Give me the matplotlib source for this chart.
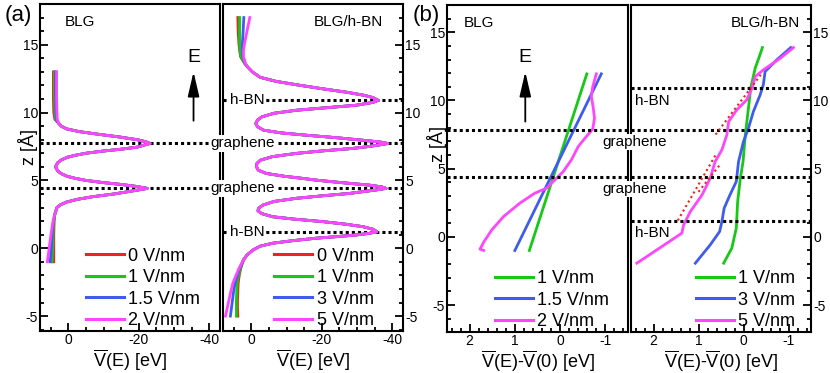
import matplotlib
matplotlib.use('Agg')
import matplotlib.pyplot as plt
from matplotlib.ticker import MultipleLocator
from matplotlib.transforms import blended_transform_factory
from matplotlib.lines import Line2D

plt.rcParams['font.family'] = ['Liberation Sans', 'DejaVu Sans']
plt.rcParams['axes.unicode_minus'] = False
plt.rcParams['mathtext.fontset'] = 'custom'
plt.rcParams['mathtext.rm'] = 'Liberation Sans'
plt.rcParams['mathtext.it'] = 'Liberation Sans:italic'

# 颜色：0, 1, 1.5/3, 2/5 V/nm
colors = ['#e8261a', '#17c817', '#3f5cf0', '#ff46ff']
labels_blg = ['0 V/nm', '1 V/nm', '1.5 V/nm', '2 V/nm']
labels_hbn = ['0 V/nm', '1 V/nm', '3 V/nm', '5 V/nm']

# ---- (a) BLG: V(E) 随 z 变化 ----
blg_z_top = [13.0, 12.0, 11.0, 10.0, 9.5]
blg_v_top_0 = [4.2, 4.2, 4.2, 4.1, 3.8]
blg_v_top_1 = [3.9, 3.9, 3.9, 3.8, 3.6]
blg_v_top_15 = [3.6, 3.6, 3.6, 3.5, 3.4]
blg_v_top_2 = [3.3, 3.3, 3.3, 3.2, 3.1]

blg_z_mid = [9.2, 9.0, 8.8, 8.6, 8.4, 8.2, 8.0, 7.85, 7.72, 7.6, 7.45, 7.3, 7.15, 7.0, 6.85,
             6.7, 6.5, 6.3, 6.0, 5.7, 5.5, 5.3, 5.15, 5.0, 4.85, 4.7, 4.55, 4.41, 4.3, 4.15,
             4.0, 3.8, 3.6, 3.4, 3.2]
blg_v_mid = [2.7, 2.0, 0.5, -3.0, -8.5, -14.5, -19.5, -22.0, -23.2, -21.5, -19.5, -15.0, -9.5, -5.0, -2.0,
             0.3, 2.0, 3.0, 3.6, 3.0, 2.0, 0.3, -2.0, -5.0, -9.5, -15.0, -19.5, -22.4, -20.0, -16.5,
             -13.0, -7.0, -2.5, 0.5, 2.2]

blg_z_bot = [3.0, 2.5, 2.0, 1.0, 0.0, -1.0]
blg_v_bot_0 = [3.2, 3.8, 4.0, 4.1, 4.1, 4.1]
blg_v_bot_1 = [3.2, 3.8, 4.1, 4.3, 4.4, 4.6]
blg_v_bot_15 = [3.2, 3.8, 4.2, 4.6, 4.8, 5.1]
blg_v_bot_2 = [3.2, 3.8, 4.3, 4.9, 5.4, 5.9]

# ---- (a) BLG/h-BN ----
hbn_z_top = [17.0, 16.0, 15.1, 14.6, 14.1, 13.6]
hbn_v_top_0 = [3.8, 3.7, 3.5, 3.3, 3.0, 1.8]
hbn_v_top_1 = [3.3, 3.3, 3.3, 3.2, 2.9, 1.8]
hbn_v_top_3 = [2.1, 2.3, 2.5, 2.5, 2.4, 1.7]
hbn_v_top_5 = [0.4, 1.2, 1.9, 2.2, 2.2, 1.6]

hbn_z_mid = [13.35, 13.0, 12.6, 12.3, 12.0, 11.76, 11.5, 11.27, 11.1, 10.9, 10.75, 10.54, 10.35, 10.17,
             9.95, 9.68, 9.45, 9.19, 8.95, 8.7, 8.5, 8.33, 8.15, 7.96, 7.83, 7.72, 7.6, 7.47, 7.35,
             7.17, 6.99, 6.75, 6.49, 6.25, 6.0, 5.75, 5.51, 5.3, 5.15, 5.02, 4.85, 4.65, 4.52, 4.41,
             4.28, 4.15, 4.04, 3.86, 3.68, 3.45, 3.18, 2.95, 2.76, 2.55, 2.32, 2.15, 1.96, 1.78, 1.59,
             1.4, 1.22, 1.1, 0.98, 0.86, 0.74, 0.55, 0.37, 0.15, -0.13, -0.5, -0.86]
hbn_v_mid = [1.0, -0.3, -2.5, -7.0, -14.0, -20.0, -27.0, -32.0, -34.5, -36.0, -34.5, -29.8, -21.0, -12.8,
             -6.5, -3.0, -1.8, -1.3, -1.8, -3.5, -8.5, -15.6, -24.0, -31.6, -36.5, -38.7, -36.0, -32.5, -28.5,
             -20.0, -12.8, -6.0, -2.6, -1.6, -1.5, -2.0, -4.3, -9.5, -14.5, -18.4, -25.0, -33.5, -37.0, -38.2,
             -35.0, -31.0, -27.9, -20.0, -12.8, -6.5, -3.3, -2.1, -1.9, -3.0, -6.1, -12.0, -20.3, -26.5, -31.6,
             -34.5, -35.6, -33.5, -29.8, -24.5, -18.4, -11.5, -6.1, -2.5, -0.5, 1.2, 2.2]

hbn_z_bot = [-1.5, -2.0, -2.57, -3.2, -3.8, -4.4, -5.0]
hbn_v_bot_0 = [3.0, 3.4, 3.7, 3.8, 3.9, 3.9, 3.8]
hbn_v_bot_1 = [3.1, 3.6, 4.0, 4.1, 4.2, 4.2, 4.2]
hbn_v_bot_3 = [3.3, 3.9, 4.6, 5.0, 5.3, 5.6, 5.9]
hbn_v_bot_5 = [3.5, 4.3, 5.2, 5.8, 6.3, 6.8, 7.3]

# ---- (b) BLG: V(E)-V(0) ----
dblg_z_1 = [11.95, -1.0]
dblg_v_1 = [-0.59, 0.68]
dblg_z_15 = [11.95, -1.0]
dblg_v_15 = [-0.91, 1.0]
dblg_z_2 = [11.95, 11.0, 10.29, 9.5, 8.7, 7.9, 7.36, 6.62, 5.65, 4.79, 4.3, 3.57, 3.2, 2.47, 1.49,
            0.51, -0.34, -0.9, -1.0]
dblg_v_2 = [-0.80, -0.72, -0.69, -0.73, -0.76, -0.72, -0.58, -0.40, -0.25, -0.07, 0.08, 0.30, 0.56, 0.89, 1.25,
            1.51, 1.68, 1.77, 1.69]

# ---- (b) BLG/h-BN ----
dhbn_z_1 = [13.88, 13.2, 12.37, 10.9, 9.44, 7.48, 5.52, 4.3, 2.59, 0.64, -0.83, -1.93]
dhbn_v_1 = [-0.42, -0.35, -0.26, -0.16, -0.11, -0.04, 0.01, 0.07, 0.13, 0.16, 0.26, 0.44]
dhbn_z_3 = [13.88, 12.98, 12.12, 11.14, 10.41, 9.19, 7.97, 6.99, 5.52, 4.06, 3.08, 2.1, 1.12, 0.39,
            -0.59, -1.93]
dhbn_v_3 = [-1.05, -0.74, -0.48, -0.44, -0.37, -0.22, -0.11, 0.0, 0.11, 0.16, 0.30, 0.43, 0.48, 0.53,
            0.74, 1.07]
dhbn_z_5 = [13.88, 13.1, 12.24, 11.75, 10.9, 10.04, 9.31, 8.45, 7.48, 6.38, 5.52, 4.3, 3.08, 1.86,
            0.88, 0.27, -0.46, -1.93]
dhbn_v_5 = [-1.11, -0.82, -0.44, -0.26, -0.19, -0.07, 0.15, 0.33, 0.37, 0.48, 0.63, 0.74, 0.92, 1.18,
            1.33, 1.37, 1.70, 2.37]

# 线性拟合（红色点线）
fit_z_a = [1.2, 6.0]
fit_v_a = [1.46, 0.62]
fit_z_b = [3.3, 5.3]
fit_v_b = [1.0, 0.52]
fit_z_c = [7.5, 12.0]
fit_v_c = [0.62, -0.41]

# 层位置
z_graphene_a = [7.72, 4.41]
z_hbn_a = [10.9, 1.22]
z_graphene_b = [7.84, 4.38]
z_hbn_b = [10.95, 1.17]

fig = plt.figure(figsize=(8.3, 3.73), dpi=100)
W, H = 830.0, 373.0


def add_axes(x0, x1, ytop, ybot):
    return fig.add_axes([x0 / W, 1 - ybot / H, (x1 - x0) / W, (ybot - ytop) / H])


ax1 = add_axes(40, 220, 4, 331)
ax2 = add_axes(223, 403, 4, 331)
ax3 = add_axes(447, 628, 5, 332.3)
ax4 = add_axes(631, 811, 5, 332.3)


def style(ax, side):
    ax.tick_params(which='both', direction='in', top=False, bottom=True,
                   left=(side == 'left'), right=(side == 'right'),
                   labelleft=(side == 'left'), labelright=(side == 'right'), width=1.3)
    ax.tick_params(which='major', length=6, labelsize=10, pad=1.5)
    ax.tick_params(which='minor', length=3)
    ax.yaxis.set_major_locator(MultipleLocator(5))
    ax.yaxis.set_minor_locator(MultipleLocator(1))
    for s in ax.spines.values():
        s.set_linewidth(1.5)


lw = 2.0
# (a) BLG
blg_top = [blg_v_top_0, blg_v_top_1, blg_v_top_15, blg_v_top_2]
blg_bot = [blg_v_bot_0, blg_v_bot_1, blg_v_bot_15, blg_v_bot_2]
for i in range(4):
    z = blg_z_top + blg_z_mid + blg_z_bot
    v = blg_top[i] + blg_v_mid + blg_bot[i]
    ax1.plot(v, z, color=colors[i], lw=lw, zorder=3 + i)

# (a) BLG/h-BN
hbn_top = [hbn_v_top_0, hbn_v_top_1, hbn_v_top_3, hbn_v_top_5]
hbn_bot = [hbn_v_bot_0, hbn_v_bot_1, hbn_v_bot_3, hbn_v_bot_5]
for i in range(4):
    z = hbn_z_top + hbn_z_mid + hbn_z_bot
    v = hbn_top[i] + hbn_v_mid + hbn_bot[i]
    ax2.plot(v, z, color=colors[i], lw=lw, zorder=3 + i)

# (b)
ax3.plot(dblg_v_1, dblg_z_1, color=colors[1], lw=lw)
ax3.plot(dblg_v_15, dblg_z_15, color=colors[2], lw=lw)
ax3.plot(dblg_v_2, dblg_z_2, color=colors[3], lw=lw)

ax4.plot(dhbn_v_1, dhbn_z_1, color=colors[1], lw=lw)
ax4.plot(dhbn_v_3, dhbn_z_3, color=colors[2], lw=lw)
ax4.plot(dhbn_v_5, dhbn_z_5, color=colors[3], lw=lw)
for fv, fz in [(fit_v_a, fit_z_a), (fit_v_b, fit_z_b), (fit_v_c, fit_z_c)]:
    ax4.plot(fv, fz, color='#e8261a', lw=1.5, ls=(0, (1, 1.5)), zorder=6)

# 虚线标出层位置
dot = dict(color='black', lw=2.2, ls=(0, (1, 1)), zorder=2)
for zg in z_graphene_a:
    ax1.axhline(zg, **dot)
    ax2.axhline(zg, **dot)
for zh in z_hbn_a:
    ax2.axhline(zh, **dot)
for zg in z_graphene_b:
    ax3.axhline(zg, **dot)
    ax4.axhline(zg, **dot)
for zh in z_hbn_b:
    ax4.axhline(zh, **dot)

ax1.set_xlim(8, -43)
ax2.set_xlim(8, -43)
for ax in (ax1, ax2):
    ax.set_ylim(-6.1, 18)
    ax.xaxis.set_major_locator(MultipleLocator(20))
    ax.xaxis.set_minor_locator(MultipleLocator(5))
for ax in (ax3, ax4):
    ax.set_xlim(2.5, -1.5)
    ax.set_ylim(-7.0, 17.0)
    ax.xaxis.set_major_locator(MultipleLocator(1))
    ax.xaxis.set_minor_locator(MultipleLocator(0.2))
style(ax1, 'left')
style(ax2, 'right')
style(ax3, 'left')
style(ax4, 'right')

xl_a = r'$\overline{\mathrm{V}}$(E) [eV]'
xl_b = r'$\overline{\mathrm{V}}$(E)-$\overline{\mathrm{V}}$(0) [eV]'
for ax, xl in [(ax1, xl_a), (ax2, xl_a), (ax3, xl_b), (ax4, xl_b)]:
    ax.set_xlabel(xl, fontsize=13, labelpad=0)
ax1.set_ylabel('z [Å]', fontsize=13)
ax1.yaxis.set_label_coords(-0.012, 0.563)
ax3.set_ylabel('z [Å]', fontsize=13)
ax3.yaxis.set_label_coords(0.0, 0.575)

# 图例
def legend(ax, labels, cols, x, y):
    hs = [Line2D([], [], color=c, lw=2.2) for c in cols]
    ax.legend(hs, labels, loc='upper left', bbox_to_anchor=(x, y), frameon=False, fontsize=13,
              handlelength=2.1, handletextpad=0.25, labelspacing=0.25, borderpad=0, borderaxespad=0)


legend(ax1, labels_blg, colors, 0.255, 0.255)
legend(ax2, labels_hbn, colors, 0.285, 0.255)
legend(ax3, labels_blg[1:], colors[1:], 0.265, 0.19)
legend(ax4, labels_hbn[1:], colors[1:], 0.36, 0.19)

# 面板标题
ax1.text(0.14, 0.965, 'BLG', transform=ax1.transAxes, fontsize=11, va='top')
ax2.text(0.89, 0.965, 'BLG/h-BN', transform=ax2.transAxes, fontsize=11, va='top', ha='right')
ax3.text(0.09, 0.965, 'BLG', transform=ax3.transAxes, fontsize=11, va='top')
ax4.text(0.94, 0.965, 'BLG/h-BN', transform=ax4.transAxes, fontsize=11, va='top', ha='right')
fig.text(5 / W, 1 - 16 / H, '(a)', fontsize=16, va='center')
fig.text(413 / W, 1 - 16 / H, '(b)', fontsize=16, va='center')

# 电场方向箭头
arr = dict(arrowstyle='-|>,head_length=1.5,head_width=0.35', color='black', lw=1.3, mutation_scale=10,
           shrinkA=0, shrinkB=0)
ax1.annotate('', xy=(-35.5, 13.0), xytext=(-35.5, 9.4), arrowprops=arr)
ax1.text(-35.5, 13.4, 'E', ha='center', va='bottom', fontsize=14)
ax3.annotate('', xy=(0.77, 12.1), xytext=(0.77, 8.45), arrowprops=arr)
ax3.text(0.77, 12.5, 'E', ha='center', va='bottom', fontsize=14)

# 层标签
box = dict(facecolor='white', edgecolor='none', pad=1)
tr_a = blended_transform_factory(fig.transFigure, ax1.transData)
for zg in z_graphene_a:
    fig.text(243 / W, zg, 'graphene', transform=tr_a, ha='center', va='center', fontsize=11,
             bbox=box, zorder=10)
for zh in z_hbn_a:
    fig.text(247.5 / W, zh, 'h-BN', transform=tr_a, ha='center', va='center', fontsize=11,
             bbox=box, zorder=10)
tr_b = blended_transform_factory(fig.transFigure, ax3.transData)
fig.text(635 / W, 6.95, 'graphene', transform=tr_b, ha='center', va='center', fontsize=11,
         bbox=box, zorder=10)
fig.text(635 / W, 3.5, 'graphene', transform=tr_b, ha='center', va='center', fontsize=11,
         bbox=box, zorder=10)
fig.text(652 / W, 9.95, 'h-BN', transform=tr_b, ha='center', va='center', fontsize=11, zorder=10)
fig.text(652 / W, 0.25, 'h-BN', transform=tr_b, ha='center', va='center', fontsize=11, zorder=10)

fig.savefig('out.png', dpi=100)
